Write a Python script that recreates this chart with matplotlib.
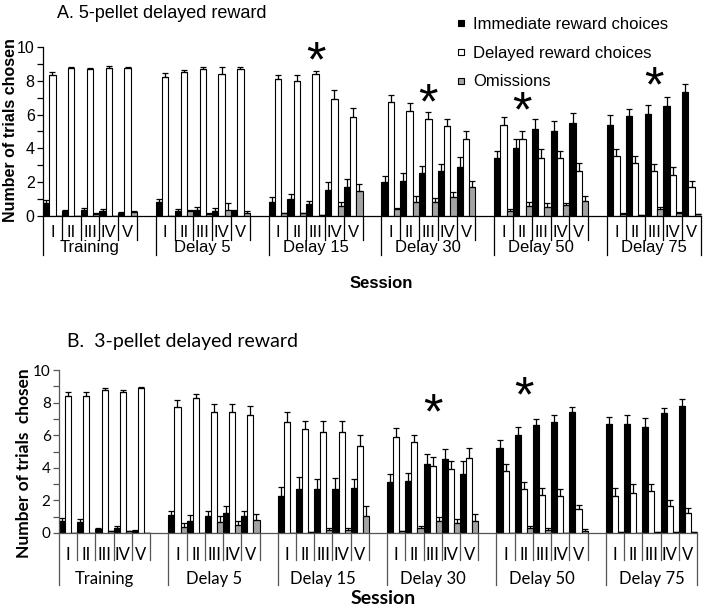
import matplotlib
matplotlib.use('Agg')
import matplotlib.pyplot as plt
import numpy as np
from matplotlib.lines import Line2D

groups = ['Training', 'Delay 5', 'Delay 15', 'Delay 30', 'Delay 50', 'Delay 75']
sessions = ['I', 'II', 'III', 'IV', 'V']

# A. 5-pellet delayed reward (6 groups x 5 sessions)
a_imm = [0.75, 0.3, 0.35, 0.3, 0.2,
         0.8, 0.3, 0.35, 0.3, 0.28,
         0.85, 1.0, 0.7, 1.56, 1.74,
         2.0, 2.07, 2.55, 2.66, 2.92,
         3.41, 4.04, 5.17, 5.03, 5.52,
         5.4, 5.92, 6.04, 6.5, 7.34]
a_imm_err = [0.2, 0.05, 0.1, 0.1, 0.05,
             0.2, 0.1, 0.2, 0.15, 0.05,
             0.3, 0.3, 0.2, 0.43, 0.43,
             0.37, 0.5, 0.41, 0.41, 0.6,
             0.43, 0.53, 0.55, 0.57, 0.57,
             0.55, 0.4, 0.5, 0.55, 0.5]
a_del = [8.35, 8.74, 8.68, 8.74, 8.74,
         8.24, 8.54, 8.68, 8.38, 8.68,
         8.1, 8.0, 8.38, 6.94, 5.88,
         6.77, 6.2, 5.72, 5.33, 4.54,
         5.4, 4.54, 3.43, 3.43, 2.66,
         3.53, 3.12, 2.68, 2.43, 1.7]
a_del_err = [0.16, 0.1, 0.08, 0.12, 0.08,
             0.24, 0.1, 0.15, 0.41, 0.12,
             0.25, 0.33, 0.18, 0.5, 0.53,
             0.37, 0.5, 0.43, 0.43, 0.5,
             0.43, 0.5, 0.55, 0.43, 0.5,
             0.45, 0.43, 0.4, 0.47, 0.36]
a_om = [0.0, 0.0, 0.1, 0.0, 0.25,
        0.0, 0.3, 0.1, 0.35, 0.2,
        0.15, 0.15, 0.05, 0.6, 1.48,
        0.4, 0.8, 0.85, 1.1, 1.7,
        0.3, 0.6, 0.55, 0.63, 0.87,
        0.1, 0.05, 0.4, 0.15, 0.1]
a_om_err = [0.0, 0.0, 0.05, 0.0, 0.05,
            0.0, 0.05, 0.05, 0.4, 0.1,
            0.05, 0.05, 0.0, 0.24, 0.41,
            0.1, 0.4, 0.2, 0.3, 0.4,
            0.1, 0.2, 0.2, 0.15, 0.32,
            0.05, 0.03, 0.15, 0.1, 0.03]
# asterisks: (group, session, height)
a_stars = [(2, 2, 9.65), (3, 2, 7.2), (4, 1, 6.7), (5, 2, 8.2)]

# B. 3-pellet delayed reward
b_imm = [0.71, 0.67, 0.27, 0.3, 0.15,
         1.08, 0.75, 1.02, 1.2, 1.02,
         2.24, 2.7, 2.7, 2.7, 2.75,
         3.14, 3.2, 4.22, 4.55, 3.65,
         5.24, 6.04, 6.6, 6.8, 7.45,
         6.7, 6.7, 6.5, 7.39, 7.82]
b_imm_err = [0.2, 0.2, 0.05, 0.15, 0.05,
             0.25, 0.33, 0.3, 0.43, 0.3,
             0.6, 0.71, 0.63, 0.65, 0.59,
             0.45, 0.51, 0.65, 0.63, 0.75,
             0.45, 0.49, 0.37, 0.45, 0.31,
             0.41, 0.55, 0.55, 0.27, 0.39]
b_del = [8.4, 8.4, 8.78, 8.65, 8.9,
         7.7, 8.27, 7.4, 7.4, 7.25,
         6.8, 6.35, 6.22, 6.22, 5.33,
         5.9, 5.57, 4.08, 3.92, 4.6,
         3.82, 2.7, 2.33, 2.25, 1.45,
         2.3, 2.45, 2.55, 1.67, 1.22]
b_del_err = [0.27, 0.25, 0.1, 0.15, 0.05,
             0.47, 0.25, 0.53, 0.53, 0.55,
             0.6, 0.55, 0.67, 0.63, 0.69,
             0.57, 0.45, 0.57, 0.49, 0.59,
             0.41, 0.43, 0.43, 0.45, 0.27,
             0.45, 0.57, 0.47, 0.37, 0.31]
b_om = [0.0, 0.0, 0.1, 0.1, 0.0,
        0.35, 0.0, 0.65, 0.47, 0.78,
        0.0, 0.05, 0.2, 0.2, 1.02,
        0.1, 0.33, 0.71, 0.6, 0.71,
        0.0, 0.3, 0.2, 0.0, 0.15,
        0.05, 0.0, 0.05, 0.05, 0.05]
b_om_err = [0.0, 0.0, 0.05, 0.05, 0.0,
            0.25, 0.0, 0.37, 0.25, 0.39,
            0.0, 0.0, 0.1, 0.1, 0.61,
            0.03, 0.1, 0.3, 0.25, 0.47,
            0.0, 0.1, 0.1, 0.0, 0.1,
            0.0, 0.0, 0.0, 0.0, 0.0]
b_stars = [(3, 2, 7.84), (4, 1, 8.9)]

colors = ['black', 'white', '#a3a3a3']
labels = ['Immediate reward choices', 'Delayed reward choices', 'Omissions']


def panel(ax, series, stars, font, lc, fs, tfs, sess_y, grp_y, short, long_):
    idx = np.array([6 * g + s for g in range(6) for s in range(5)])
    w = 1 / 3
    for k, (vals, errs) in enumerate(series):
        errs = np.array(errs)
        ax.bar(idx + (k + 0.5) * w, vals, width=w, color=colors[k],
               edgecolor='black', linewidth=0.8,
               yerr=[np.zeros_like(errs), errs],
               error_kw=dict(ecolor='black', elinewidth=0.9, capsize=2.5, capthick=0.9))
    ax.set_xlim(0, 35)
    ax.set_ylim(0, 10)
    for s in ['top', 'right']:
        ax.spines[s].set_visible(False)
    for s in ['left', 'bottom']:
        ax.spines[s].set_color(lc)
        ax.spines[s].set_linewidth(0.9)
    ax.set_xticks([])
    ax.set_yticks(range(0, 11, 2))
    ax.set_yticks(range(0, 11), minor=True)
    ax.tick_params(axis='y', which='both', direction='out', length=4, color=lc, width=0.9, pad=2)
    for t in ax.get_yticklabels():
        t.set_family(font)
        t.set_fontsize(tfs)
    tr = ax.get_xaxis_transform()
    for g in range(6):
        start = 6 * g
        ax.plot([start, start], [0, -long_], transform=tr, clip_on=False, color=lc, lw=0.9)
        for s in range(5):
            ax.text(start + s + 0.5, sess_y, sessions[s], transform=tr, ha='center', va='center',
                    family=font, fontsize=fs)
            if not (g == 5 and s == 4):
                ax.plot([start + s + 1] * 2, [0, -short], transform=tr, clip_on=False,
                        color=lc, lw=0.9)
        ax.text(start + 2.5, grp_y, groups[g], transform=tr, ha='center', va='center',
                family=font, fontsize=fs)
    ax.plot([35, 35], [0, -long_], transform=tr, clip_on=False, color=lc, lw=0.9)
    for g, s, y in stars:
        ax.annotate('*', (6 * g + s + 0.5, y), xytext=(0, -17), textcoords='offset points',
                    ha='center', va='baseline', fontsize=36, family='Liberation Sans')


fig = plt.figure(figsize=(7.14, 6.14), dpi=100)
W, H = 714, 614

ax_a = fig.add_axes([43 / W, 1 - 216 / H, 658 / W, 169 / H])
panel(ax_a, [(a_imm, a_imm_err), (a_del, a_del_err), (a_om, a_om_err)], a_stars,
      'Liberation Sans', 'black', 12, 11.5, -0.095, -0.189, 0.142, 0.231)
fig.text(57 / W, 1 - 14 / H, 'A. 5-pellet delayed reward', ha='left', va='center',
         family='Liberation Sans', fontsize=13)
fig.text(11 / W, 1 - 130 / H, 'Number of trials chosen', rotation=90, ha='center', va='center',
         family='Liberation Sans', fontsize=11.5, fontweight='bold')
fig.text(381 / W, 1 - 283 / H, 'Session', ha='center', va='center',
         family='Liberation Sans', fontsize=12, fontweight='bold')
handles = [Line2D([], [], ls='none', marker='s', markersize=5, markerfacecolor=c,
                  markeredgecolor='black', markeredgewidth=0.8) for c in colors]
ax_a.legend(handles, labels, loc='upper left', bbox_to_anchor=(456 / W, 1 - 17 / H),
            bbox_transform=fig.transFigure, frameon=False, handlelength=0.6,
            handletextpad=0.42, labelspacing=0.82, borderpad=0, borderaxespad=0,
            prop={'family': 'Liberation Sans', 'size': 12})

ax_b = fig.add_axes([59 / W, 1 - 533 / H, 638 / W, 163 / H])
panel(ax_b, [(b_imm, b_imm_err), (b_del, b_del_err), (b_om, b_om_err)], b_stars,
      'Lato', '#555555', 12, 11, -0.135, -0.282, 0.166, 0.319)
fig.text(67 / W, 1 - 342 / H, 'B.  3-pellet delayed reward', ha='left', va='center',
         family='Lato', fontsize=14)
fig.text(24 / W, 1 - 463 / H, 'Number of trials  chosen', rotation=90, ha='center', va='center',
         family='Lato', fontsize=12.5, fontweight='bold')
fig.text(383 / W, 1 - 598 / H, 'Session', ha='center', va='center',
         family='Lato', fontsize=14, fontweight='bold')

fig.savefig('out.png', dpi=100)
